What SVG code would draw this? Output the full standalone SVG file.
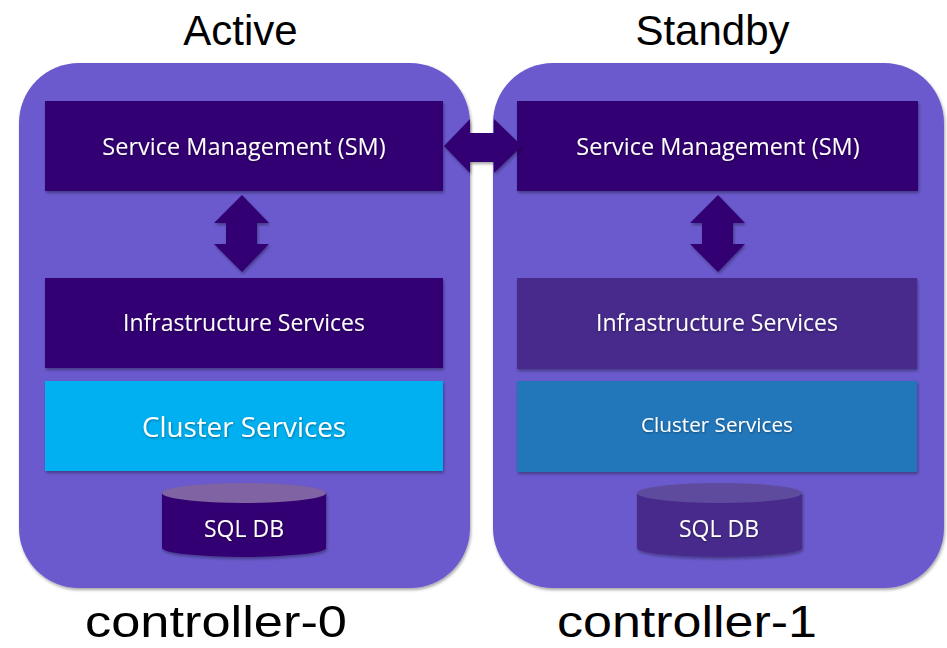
<svg xmlns="http://www.w3.org/2000/svg" width="947" height="648" viewBox="0 0 947 648">
  <defs>
    <filter id="shadow" x="-10%" y="-10%" width="120%" height="130%">
      <feDropShadow dx="1" dy="2" stdDeviation="1.5" flood-color="#000" flood-opacity="0.35"/>
    </filter>
    <filter id="tshadow" x="-5%" y="-20%" width="110%" height="150%">
      <feDropShadow dx="0.5" dy="1" stdDeviation="0.8" flood-color="#000" flood-opacity="0.4"/>
    </filter>
  </defs>
  <style>
    .panel { fill: #6a5acd; filter: url(#shadow); }
    .dark { fill: #330072; }
    .dim { fill: #472c8c; }
    .box { filter: url(#shadow); }
    .lbl { font-family: "Open Sans", "Noto Sans", sans-serif; fill: #ffffff; text-anchor: middle; filter: url(#tshadow); }
    .head { font-family: "Liberation Sans", Arial, sans-serif; fill: #000000; text-anchor: middle; }
    .arrow { fill: #330072; filter: url(#shadow); }
  </style>

  <!-- headings -->
  <text class="head" x="240.5" y="45" font-size="42">Active</text>
  <text class="head" x="712.5" y="45" font-size="42">Standby</text>

  <!-- controller-0 -->
  <g id="controller-0">
    <rect class="panel" x="19" y="63" width="451" height="525" rx="60" ry="60"/>
    <text class="head" x="216" y="637" font-size="44" textLength="262" lengthAdjust="spacingAndGlyphs">controller-0</text>
  </g>

  <!-- controller-1 -->
  <g id="controller-1">
    <rect class="panel" x="493" y="63" width="451" height="525" rx="60" ry="60"/>
    <text class="head" x="687" y="637" font-size="44" textLength="260" lengthAdjust="spacingAndGlyphs">controller-1</text>
  </g>

  <g id="sm-0">
    <rect class="dark box" x="45" y="101" width="398" height="90"/>
    <text class="lbl" x="244" y="155" font-size="23.5">Service Management (SM)</text>
  </g>
  <g id="infra-0">
    <rect class="dark box" x="45" y="278" width="398" height="90"/>
    <text class="lbl" x="244" y="331" font-size="23">Infrastructure Services</text>
  </g>
  <g id="cluster-0">
    <rect class="box" fill="#00b0f0" x="45" y="381" width="398" height="90"/>
    <text class="lbl" x="244" y="437" font-size="27.8">Cluster Services</text>
  </g>
  <g id="db-0" class="box">
    <path class="dark" d="M162,493 L162,548 A82,9 0 0 0 326,548 L326,493 Z"/>
    <ellipse cx="244" cy="493" rx="82" ry="10" fill="#8064a2"/>
    <text class="lbl" x="244" y="537" font-size="23">SQL DB</text>
  </g>

  <g id="sm-1">
    <rect class="dark box" x="517" y="101" width="401" height="90"/>
    <text class="lbl" x="718" y="155" font-size="23.5">Service Management (SM)</text>
  </g>
  <g id="infra-1">
    <rect class="dim box" x="517" y="278" width="400" height="91"/>
    <text class="lbl" x="717" y="331" font-size="23">Infrastructure Services</text>
  </g>
  <g id="cluster-1">
    <rect class="box" fill="#2277bb" x="517" y="381" width="400" height="91"/>
    <text class="lbl" x="717" y="432" font-size="20.7">Cluster Services</text>
  </g>
  <g id="db-1" class="box">
    <path class="dim" d="M637,493 L637,548 A82.5,9 0 0 0 802,548 L802,493 Z"/>
    <ellipse cx="719.5" cy="493" rx="82.5" ry="10" fill="#5f4b9e"/>
    <text class="lbl" x="719" y="537" font-size="23">SQL DB</text>
  </g>

  <!-- connectors -->
  <g id="connectors">
    <path class="arrow" d="M444,146 L470,119 L470,133 L494,133 L494,119 L522,146 L494,173 L494,162 L470,162 L470,173 Z"/>
    <path class="arrow" d="M242,195 L269,223 L257,223 L257,244 L269,244 L242,272 L214,244 L226,244 L226,223 L214,223 Z"/>
    <path class="arrow" d="M718,195 L745,223 L733,223 L733,244 L745,244 L718,272 L690,244 L702,244 L702,223 L690,223 Z"/>
  </g>
</svg>
